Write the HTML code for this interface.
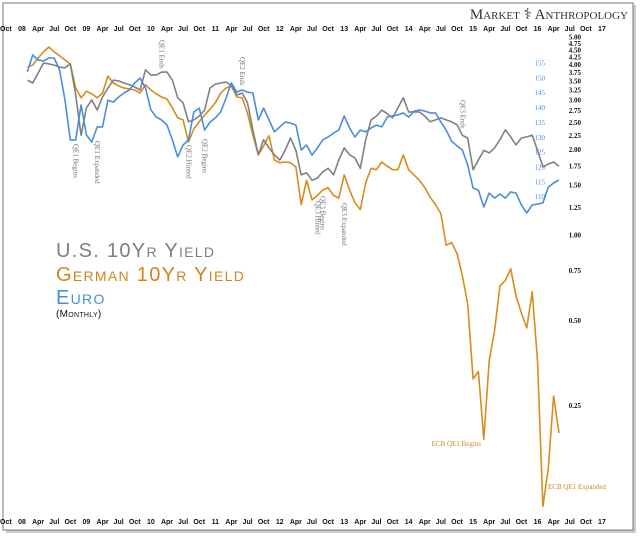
<!DOCTYPE html>
<html><head><meta charset="utf-8"><style>
body{margin:0;background:#fff;}
svg{display:block;font-family:"Liberation Sans",sans-serif;}
.sc{font-variant:small-caps;}
</style></head><body>
<svg id="chart" width="640" height="537" viewBox="0 0 640 537">
<rect x="4" y="3" width="630" height="528" fill="#9a9a9a" opacity="0.5" transform="translate(2,2)"/>
<rect x="3" y="3" width="630" height="527" fill="#fff" stroke="#777" stroke-width="1"/>
<text x="628" y="19" text-anchor="end" font-size="15" fill="#333" font-family="Liberation Serif, serif" class="sc">Market ⚕ Anthropology</text>
<g id="axes"></g>
<g id="series"></g>
<g id="annot" font-size="7" fill="#777"></g>
<g class="sc" font-size="20" letter-spacing="1.3">
<text x="56" y="257" fill="#7f7f7f">U.S. 10Yr Yield</text>
<text x="56" y="281" fill="#d0861a">German 10Yr Yield</text>
<text x="56" y="304" fill="#4a8edb">Euro</text>
<text x="56" y="317" fill="#111" font-size="10" letter-spacing="0.3">(Monthly)</text>
</g>
</svg>
<script>
const monthIndex=[1,2,3,4,5,6,7,8,9,10,11,12,13,14,15,16,17,18,19,20,21,22,23,24,25,26,27,28,29,30,31,32,33,34,35,36,37,38,39,40,41,42,43,44,45,46,47,48,49,50,51,52,53,54,55,56,57,58,59,60,61,62,63,64,65,66,67,68,69,70,71,72,73,74,75,76,77,78,79,80,81,82,83,84,85,86,87,88,89,90,91,92,93,94,95,96,97,98,99,100];
const usYield=[3.52,3.44,3.73,4.05,4.02,3.98,3.92,3.89,4.02,3.12,2.25,2.81,3.00,2.76,3.07,3.30,3.52,3.50,3.44,3.39,3.33,3.25,3.83,3.67,3.67,3.76,3.76,3.52,3.05,2.93,2.51,2.55,2.63,2.76,3.30,3.41,3.44,3.47,3.36,3.12,3.17,2.93,2.35,1.92,2.17,2.03,1.92,1.84,1.99,2.20,1.99,1.63,1.66,1.56,1.59,1.67,1.72,1.63,1.84,2.03,1.92,1.87,1.72,2.17,2.55,2.63,2.76,2.68,2.59,2.81,3.05,2.72,2.72,2.72,2.63,2.51,2.55,2.59,2.55,2.51,2.45,2.25,2.20,1.70,1.84,1.99,1.95,2.03,2.17,2.35,2.22,2.08,2.20,2.22,2.25,1.99,1.74,1.78,1.81,1.75];
const germanYield=[3.92,3.98,4.22,4.43,4.61,4.43,4.29,4.15,4.02,3.30,3.05,3.22,3.15,3.05,3.17,3.64,3.44,3.36,3.30,3.28,3.25,3.17,3.39,3.25,3.15,3.07,3.02,2.81,2.59,2.55,2.13,2.37,2.51,2.65,2.78,2.93,3.17,3.30,3.36,3.07,3.05,2.69,2.25,1.92,2.06,2.24,1.84,1.80,1.81,1.80,1.74,1.28,1.56,1.33,1.38,1.44,1.47,1.38,1.35,1.63,1.44,1.30,1.23,1.53,1.72,1.70,1.81,1.75,1.70,1.70,1.92,1.70,1.63,1.56,1.47,1.36,1.28,1.19,0.92,0.94,0.86,0.72,0.57,0.31,0.33,0.19,0.36,0.46,0.66,0.69,0.76,0.61,0.53,0.47,0.63,0.36,0.11,0.15,0.27,0.20];
const euro=[152.0,157.7,156.0,155.7,156.7,156.7,152.6,142.5,129.1,129.1,140.9,130.8,128.4,133.5,133.5,142.5,141.8,143.6,144.9,145.9,148.3,149.9,146.6,139.2,136.8,135.8,134.1,129.1,123.4,127.4,129.1,138.5,139.8,132.4,135.1,136.5,138.5,143.2,148.3,145.2,145.9,145.2,144.9,135.8,139.8,135.8,131.8,133.5,135.1,134.8,134.1,125.7,127.4,124.0,126.4,129.1,130.1,131.4,132.4,137.2,133.1,130.1,132.4,131.8,133.1,134.1,133.5,136.8,137.2,137.5,138.2,136.8,138.8,139.2,138.8,138.2,138.2,135.1,132.4,128.7,127.1,125.7,120.7,112.9,112.2,106.5,111.2,109.5,110.9,109.5,111.6,111.2,107.2,104.5,107.2,107.5,107.9,113.2,114.6,115.6];
const tickMonths=[-3,0,3,6,9,12,15,18,21,24,27,30,33,36,39,42,45,48,51,54,57,60,63,66,69,72,75,78,81,84,87,90,93,96,99,102,105,108];
const tickLabels=["Oct","08","Apr","Jul","Oct","09","Apr","Jul","Oct","10","Apr","Jul","Oct","11","Apr","Jul","Oct","12","Apr","Jul","Oct","13","Apr","Jul","Oct","14","Apr","Jul","Oct","15","Apr","Jul","Oct","16","Apr","Jul","Oct","17"];
const yieldTicks=[5.00,4.75,4.50,4.25,4.00,3.75,3.50,3.25,3.00,2.75,2.50,2.25,2.00,1.75,1.50,1.25,1.00,0.75,0.50,0.25];
const euroTicks=[155,150,145,140,135,130,125,120,115,110];
const annotations=[["QE1  Begins",10,144,"#777"],["QE1  Expanded",14,141,"#777"],["QE1  Ends",26,40,"#777"],["QE2  Hinted",31,145,"#777"],["QE2  Begins",34,139,"#777"],["QE2  Ends",41,57,"#777"],["QE3  Hinted",55,201,"#777"],["QE3  Begins",56,196,"#777"],["QE3  Expanded",60,203,"#777"],["QE3  Ends",82,100,"#777"]];

const NS="http://www.w3.org/2000/svg";
const x=m=>22+5.37*m;
const yY=v=>235-123*Math.log(v);
const yE=v=>63+(155-v)*2.97;
function mk(tag,attrs,parent,text){const e=document.createElementNS(NS,tag);for(const k in attrs)e.setAttribute(k,attrs[k]);if(text!==undefined)e.textContent=text;parent.appendChild(e);return e;}
const axes=document.getElementById('axes');
tickMonths.forEach((m,i)=>{
  const t1=mk('text',{x:x(m),y:31,'text-anchor':'middle','font-size':7,'font-weight':'bold',fill:'#111'},axes,tickLabels[i]);
  
  
  const t2=mk('text',{x:x(m),y:524,'text-anchor':'middle','font-size':7,'font-weight':'bold',fill:'#111'},axes,tickLabels[i]);
  
  
});
yieldTicks.forEach(v=>{
  const t=mk('text',{x:581,y:yY(v)+2.5,'text-anchor':'end','font-size':7,'font-weight':'bold',fill:'#111','font-family':'Liberation Serif, serif'},axes,v.toFixed(2));
  
  
});
euroTicks.forEach(v=>{
  const t=mk('text',{x:545,y:yE(v)+2.5,'text-anchor':'end','font-size':7,fill:'#4a8edb','font-family':'Liberation Serif, serif'},axes,String(v));
  
  
});
const ser=document.getElementById('series');
function line(vals,fy,color,name){
  const d=vals.map((v,i)=>(i?'L':'M')+x(monthIndex[i]).toFixed(1)+','+fy(v).toFixed(1)).join('');
  const p=mk('path',{d:d,fill:'none',stroke:color,'stroke-width':1.6,'stroke-linejoin':'round'},ser);
  
  
}
line(germanYield,yY,'#d88c1c','german-yield-line');
line(usYield,yY,'#808080','us-yield-line');
line(euro,yE,'#4a8edb','euro-line');
const an=document.getElementById('annot');
annotations.forEach(a=>{
  const t=mk('text',{transform:`translate(${x(a[1])-2},${a[2]}) rotate(90)`,fill:a[3],'font-family':'Liberation Serif, serif'},an,a[0]);
  
  
});
const e1=mk('text',{x:481,y:446,'text-anchor':'end','font-size':7,fill:'#d0861a','font-family':'Liberation Serif, serif'},an,'ECB QE1   Begins');


const e2=mk('text',{x:548,y:489,'font-size':7,fill:'#d0861a','font-family':'Liberation Serif, serif'},an,'ECB QE1   Expanded');


</script>
</body></html>
